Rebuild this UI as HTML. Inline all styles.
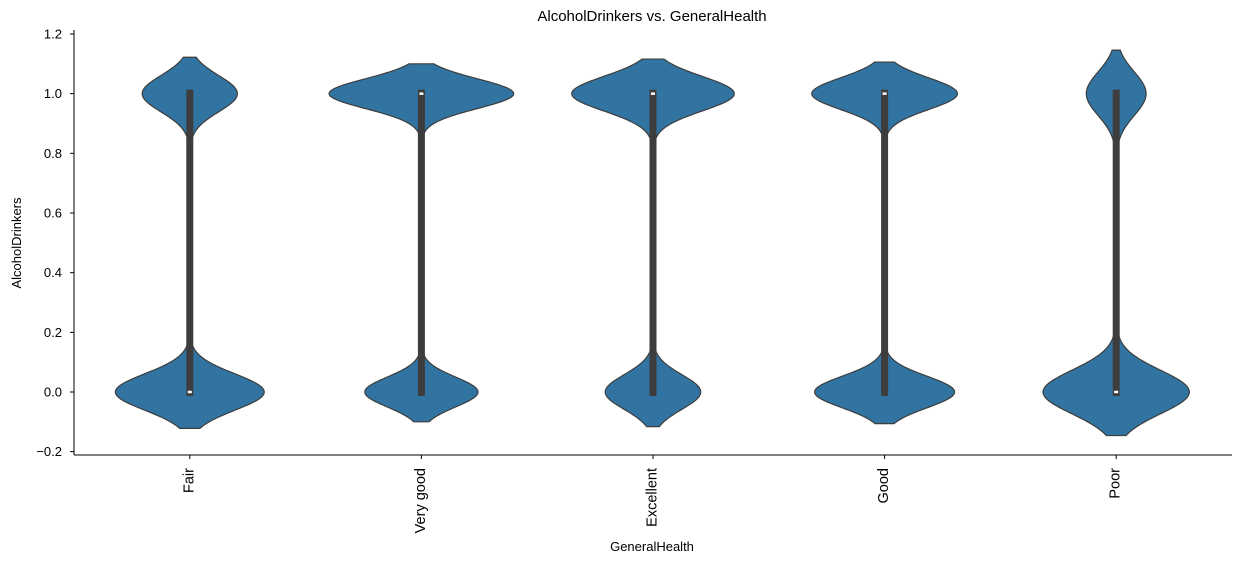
<!DOCTYPE html>
<html><head><meta charset="utf-8"><style>
body{margin:0;background:#fff;}
svg{display:block;font-family:"Liberation Sans","DejaVu Sans",sans-serif;}
</style></head><body>
<svg id="chart" width="1258" height="564">
<text x="652" y="21" text-anchor="middle" font-size="15">AlcoholDrinkers vs. GeneralHealth</text>
<text transform="translate(21,243) rotate(-90)" text-anchor="middle" font-size="13">AlcoholDrinkers</text>
<text x="652" y="551" text-anchor="middle" font-size="13">GeneralHealth</text>
<g id="plot"></g>
</svg>
<script>
const categories=["Fair","Very good","Excellent","Good","Poor"];
const drinkerShare=[0.39,0.62,0.63,0.51,0.29];
const bandwidth=[0.061,0.05,0.058,0.053,0.073];
const relDensity=[0.527,0.643,0.557,0.617,0.445];
const q1=[0,0,0,0,0];
const q3=[1,1,1,1,1];
const medians=[0,1,1,1,0];
const yTicks=[-0.2,0.0,0.2,0.4,0.6,0.8,1.0,1.2];

const L=74,R=1232,T=30,B=455;
const y=v=>392-(v-0.0)*(392-34)/1.2;
const bw=(R-L)/categories.length;
const x=i=>L+bw*(i+0.5);
const NS="http://www.w3.org/2000/svg";
const g=document.getElementById('plot');
function mk(t,a){const e=document.createElementNS(NS,t);for(const k in a)e.setAttribute(k,a[k]);g.appendChild(e);return e;}

let e=mk('line',{x1:L,y1:T,x2:L,y2:B,stroke:'#000','stroke-width':1});


e=mk('line',{x1:L,y1:B,x2:R,y2:B,stroke:'#000','stroke-width':1});



yTicks.forEach(v=>{
  const t=mk('line',{x1:L-4,y1:y(v),x2:L,y2:y(v),stroke:'#000'});
  
  
  const tx=mk('text',{x:L-12,y:y(v)+4.5,'text-anchor':'end','font-size':13});
  tx.textContent=(v<0?'\u2212'+Math.abs(v).toFixed(1):v.toFixed(1));
  
  
});

categories.forEach((c,i)=>{
  const cx=x(i);
  const t=mk('line',{x1:cx,y1:B,x2:cx,y2:B+4,stroke:'#000'});
  
  
  const tx=mk('text',{transform:`translate(${cx+3.5},${B+13}) rotate(-90)`,'text-anchor':'end','font-size':14.5});
  tx.textContent=c;
  
  

  const p=drinkerShare[i],h=bandwidth[i];
  const k=relDensity[i]*bw;
  const w=v=>k*(p*Math.exp(-((v-1)**2)/(2*h*h))+(1-p)*Math.exp(-(v*v)/(2*h*h)));
  const lo=-2*h,hi=1+2*h,n=300;
  let right=[],left=[];
  for(let j=0;j<=n;j++){const v=lo+(hi-lo)*j/n;right.push(`${(cx+w(v)).toFixed(2)},${y(v).toFixed(2)}`);left.push(`${(cx-w(v)).toFixed(2)},${y(v).toFixed(2)}`);}
  const d='M'+right.join('L')+'L'+left.reverse().join('L')+'Z';
  const vp=mk('path',{d:d,fill:'#3274a1',stroke:'#3d3d3d','stroke-width':1.2});
  
  
  const bx=mk('line',{x1:cx,y1:y(q1[i])+4,x2:cx,y2:y(q3[i])-4,stroke:'#3d3d3d','stroke-width':7});
  
  
  const md=mk('line',{x1:cx-2,y1:y(medians[i]),x2:cx+2,y2:y(medians[i]),stroke:'#fff','stroke-width':2.5});
  
  
});
</script>
</body></html>
